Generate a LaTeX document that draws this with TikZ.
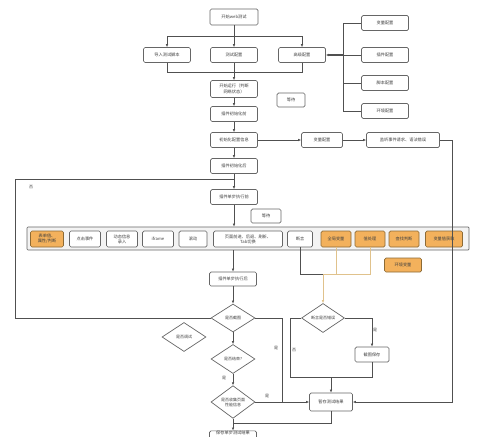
\documentclass[tikz,border=0pt]{standalone}
\usepackage{fontspec}
\newfontfamily\cjk{Noto Sans CJK SC}
\usetikzlibrary{shapes.geometric,arrows.meta}
\definecolor{lnc}{HTML}{505050}
\definecolor{bdc}{HTML}{666666}
\definecolor{orgf}{HTML}{F3B15C}
\definecolor{orgb}{HTML}{8C6A35}
\definecolor{tanc}{HTML}{E0C28C}
\definecolor{rowf}{HTML}{F3F3F3}
\begin{document}
\begin{tikzpicture}[x=1pt,y=-1pt,
  box/.style={draw=bdc, line width=0.7pt, rounded corners=1.5pt, fill=white,
    minimum width=47pt, minimum height=15pt, inner sep=1pt, align=center,
    font=\cjk\fontsize{4.2}{5.2}\selectfont, text=black!75},
  obox/.style={box, fill=orgf, draw=orgb},
  dia/.style={diamond, draw=bdc, line width=0.7pt, fill=white, minimum width=44pt,
    minimum height=29pt, inner sep=0pt, align=center,
    font=\cjk\fontsize{4}{5}\selectfont, text=black!75},
  lnn/.style={draw=lnc, line width=0.7pt},
  ar/.style={lnn, -{Latex[length=3pt,width=2.6pt]}},
  tanl/.style={draw=tanc, line width=0.8pt},
  tanar/.style={tanl, -{Latex[length=3pt,width=2.6pt]}},
  lbl/.style={font=\cjk\fontsize{4}{5}\selectfont, text=black!75, inner sep=0pt}]
\useasboundingbox (0,0) rectangle (500,436);
\clip (0,0) rectangle (500,436);

% top part
\node[box, minimum width=48pt, minimum height=16pt] (start) at (234,17) {开始web测试};
\node[box] (imp) at (167,55) {导入测试脚本};
\node[box] (tcfg) at (234,55) {测试配置};
\node[box] (adv) at (302,55) {高级配置};
\node[box, minimum height=17pt] (run) at (234,89) {开始运行（判断\\网络状态）};
\node[box, minimum width=28pt, minimum height=14pt] (wait1) at (291,100) {等待};
\node[box] (pre) at (234,114) {插件初始化前};

\node[box] (v1) at (385,23) {变量配置};
\node[box] (p1) at (385,55) {插件配置};
\node[box] (s1) at (385,83) {脚本配置};
\node[box] (e1) at (385,111) {环境配置};

\node[box] (init) at (234,140) {初始化配置信息};
\node[box, minimum width=41pt] (var2) at (322,140) {变量配置};
\node[box, minimum width=73pt] (lis) at (403,140) {监听事件请求、语法错误};
\node[box] (post) at (234,166) {插件初始化后};
\node[box] (sb) at (234,197) {插件单步执行前};
\node[box, minimum width=30pt, minimum height=14pt] (wait2) at (266,216) {等待};

% row
\node[draw=bdc, line width=0.7pt, fill=rowf, rounded corners=1pt,
  minimum width=442pt, minimum height=23pt, inner sep=0pt] (row) at (248,238.5) {};
\node[obox, minimum width=33pt, minimum height=16pt] (i1) at (47,239) {表单值、\\属性/判断};
\node[box, minimum width=31pt, minimum height=16pt] (i2) at (85,239) {点击事件};
\node[box, minimum width=31pt, minimum height=16pt] (i3) at (122,239) {动态信息\\录入};
\node[box, minimum width=31pt, minimum height=16pt] (i4) at (158,239) {iframe};
\node[box, minimum width=28pt, minimum height=16pt] (i5) at (193,239) {滚动};
\node[box, minimum width=69pt, minimum height=16pt] (i6) at (248,239) {页面前进、后退、刷新、\\Tab切换};
\node[box, minimum width=25pt, minimum height=16pt] (i7) at (300,239) {断言};
\node[obox, minimum width=30pt, minimum height=16pt] (i8) at (336,239) {全局变量};
\node[obox, minimum width=30pt, minimum height=16pt] (i9) at (370,239) {值处理};
\node[obox, minimum width=30pt, minimum height=16pt] (i10) at (404,239) {查找判断};
\node[obox, minimum width=37pt, minimum height=16pt] (i11) at (444,239) {变量值获取};
\node[obox, minimum width=37pt, minimum height=14pt] (envv) at (403,265) {环境变量};

% lower part
\node[box, minimum height=14pt] (after) at (233,279) {插件单步执行后};
\node[dia, minimum height=28pt] (shot) at (233,318) {是否截图};
\node[dia] (dbg) at (184,337) {是否调试};
\node[dia] (endq) at (233,359) {是否结束?};
\node[dia, minimum height=30pt] (perf) at (233,402) {是否收集页面\\性能信息};
\node[box, anchor=north, minimum height=0pt, inner ysep=0.8pt, text height=3pt,
  text depth=10pt] (final) at (233,430.5) {保存单步测试结果};
\node[dia, minimum width=43pt] (ast) at (323,318) {断言是否错误};
\node[box, minimum width=34pt] (save) at (372,354.5) {截图保存};
\node[box, minimum width=43pt, minimum height=18pt] (tmp) at (331,402) {暂存测试结果};

% connectors top
\coordinate (j1) at (234,36);
\coordinate (j2) at (234,72);
\draw[lnn] (start) -- (j1);
\draw[ar] (j1) -| (imp);
\draw[ar] (j1) -| (adv);
\draw[ar] (j1) -- (tcfg);
\draw[lnn] (imp) |- (j2);
\draw[lnn] (adv) |- (j2);
\draw[lnn] (tcfg) -- (j2);
\draw[ar] (j2) -- (run);
\draw[ar] (run) -- (pre);
\draw[ar] (pre) -- (init);

\coordinate (rj) at (343,55);
\draw[lnn] (v1) -| (rj);
\draw[lnn] (e1) -| (rj);
\draw[lnn] (s1) -| (rj);
\draw[lnn] (p1) -- (rj);
\draw[ar, line width=1.1pt] (rj) -- (adv);

\draw[ar] (init) -- (var2);
\draw[ar] (var2) -- (lis);
\draw[ar] (init) -- (post);
\draw[ar] (post) -- (sb);
\draw[ar] (sb) -- (sb.south |- row.north);

\coordinate (rc) at (452,140);
\draw[ar] (lis) -- (rc) |- (tmp);

% loop back
\coordinate (lc) at (15,179);
\coordinate (lj) at (234,179);
\draw[lnn] (shot.west) -| (lc) -- (lj);
\node[lbl] at (31,187) {否};

\draw[ar] (row.south -| after) -- (after);
\draw[ar] (after) -- (shot);
\draw[ar] (shot) -- (endq);
\draw[ar] (endq) -- (perf);
\node[lbl] at (224,378) {是};
\draw[ar] (perf) -- (final);

\coordinate (rr) at (282,318);
\draw[ar] (shot.east) -- (rr) |- (tmp);
\node[lbl] at (276,348) {是};
\draw[lnn] (perf.east) -- (perf.east -| rr);
\node[lbl] at (267,396) {是};

% row to assertion diamond
\coordinate (d2) at (323,274);
\draw[lnn] (i7.south) |- (d2);
\draw[tanl] (i8.south) -- (i8.south |- d2);
\draw[tanl] (i9.south) |- (d2);
\draw[tanar] (d2) -- (ast);

\draw[ar] (ast.east) -| (save);
\node[lbl] at (375,330) {是};
\coordinate (al) at (290,377);
\draw[lnn] (ast.west) -| (al) -| (save);
\node[lbl] at (294,350) {否};
\coordinate (m) at (331,377);
\draw[ar] (m) -- (tmp);

\coordinate (bj) at (233,423);
\draw[lnn] (tmp) |- (bj);
\end{tikzpicture}
\end{document}
